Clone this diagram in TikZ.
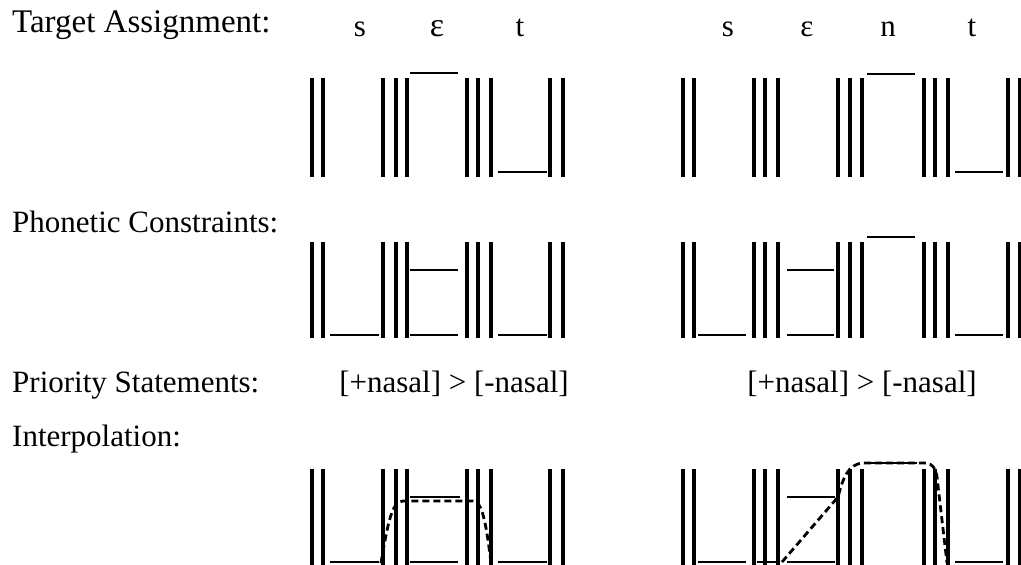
\documentclass[tikz,border=0pt]{standalone}
\usepackage{fontspec}
\setmainfont{Liberation Serif}
\begin{document}
\begin{tikzpicture}[x=1pt,y=-1pt,
  bar/.style={line width=3.3pt},
  seg/.style={line width=2.2pt},
  interp/.style={line width=2.8pt, dash pattern=on 7pt off 4pt},
  lbl/.style={anchor=base west, inner sep=0pt, font=\fontsize{31}{36}\selectfont},
  ph/.style={anchor=base, inner sep=0pt, font=\fontsize{31}{36}\selectfont}]
\useasboundingbox (0,0) rectangle (1021,565);
% row labels
\node[lbl, font=\fontsize{33}{38}\selectfont] (lta) at (12,32) {Target Assignment:};
\node[lbl] (lpc) at (12,232) {Phonetic Constraints:};
\node[lbl] (lps) at (12,392) {Priority Statements:};
\node[lbl] (lin) at (12,446) {Interpolation:};
% phoneme labels
\node[ph] (ps1) at (360,36) {s};
\node[ph, font=\fontsize{34}{38}\selectfont] (pe1) at (437,36) {ɛ};
\node[ph] (pt1) at (520,36) {t};
\node[ph] (ps2) at (728,36) {s};
\node[ph] (pe2) at (807,36) {ε};
\node[ph] (pn2) at (888,36) {n};
\node[ph] (pt2) at (972,36) {t};
% priority statements
\node[ph] (pr1) at (454,392) {[+nasal] > [-nasal]};
\node[ph] (pr2) at (862,392) {[+nasal] > [-nasal]};
% bars
\foreach \x in {312,323,383,396,407,467,478,491,550,563,683,694,754,765,778,838,850,862,924,935,948,1008,1019.5}{
  \draw[bar] (\x,78) -- (\x,177);
  \draw[bar] (\x,242) -- (\x,338);
  \draw[bar] (\x,469) -- (\x,567);
}
% target assignment
\draw[seg] (410,73) -- (458,73);
\draw[seg] (498,172) -- (547,172);
\draw[seg] (867,74) -- (915,74);
\draw[seg] (955,172) -- (1003,172);
% phonetic constraints
\draw[seg] (330,335) -- (379,335);
\draw[seg] (410,270) -- (458,270);
\draw[seg] (410,335) -- (458,335);
\draw[seg] (498,335) -- (547,335);
\draw[seg] (698,335) -- (746,335);
\draw[seg] (787,270) -- (834,270);
\draw[seg] (787,335) -- (834,335);
\draw[seg] (867,237) -- (915,237);
\draw[seg] (955,335) -- (1003,335);
% interpolation targets
\draw[seg] (330,562) -- (379,562);
\draw[seg] (410,497) -- (460,497);
\draw[seg] (410,562) -- (458,562);
\draw[seg] (498,562) -- (547,562);
\draw[seg] (698,562) -- (746,562);
\draw[seg] (757,562) -- (777,562);
\draw[seg] (787,497) -- (835,497);
\draw[seg] (787,562) -- (835,562);
\draw[seg] (867,463) -- (917,463);
\draw[seg] (955,562) -- (1003,562);
% interpolation curves
\draw[interp] (381,563) .. controls (388,522) and (392,501) .. (403,501) -- (473,501)
  .. controls (482,501) and (486,522) .. (491,563);
\draw[interp] (782,562) -- (838,497) .. controls (843,478) and (848,464) .. (863,463)
  -- (924,463) .. controls (934,463) and (937,470) .. (938,486) -- (947,563);
\end{tikzpicture}
\end{document}
